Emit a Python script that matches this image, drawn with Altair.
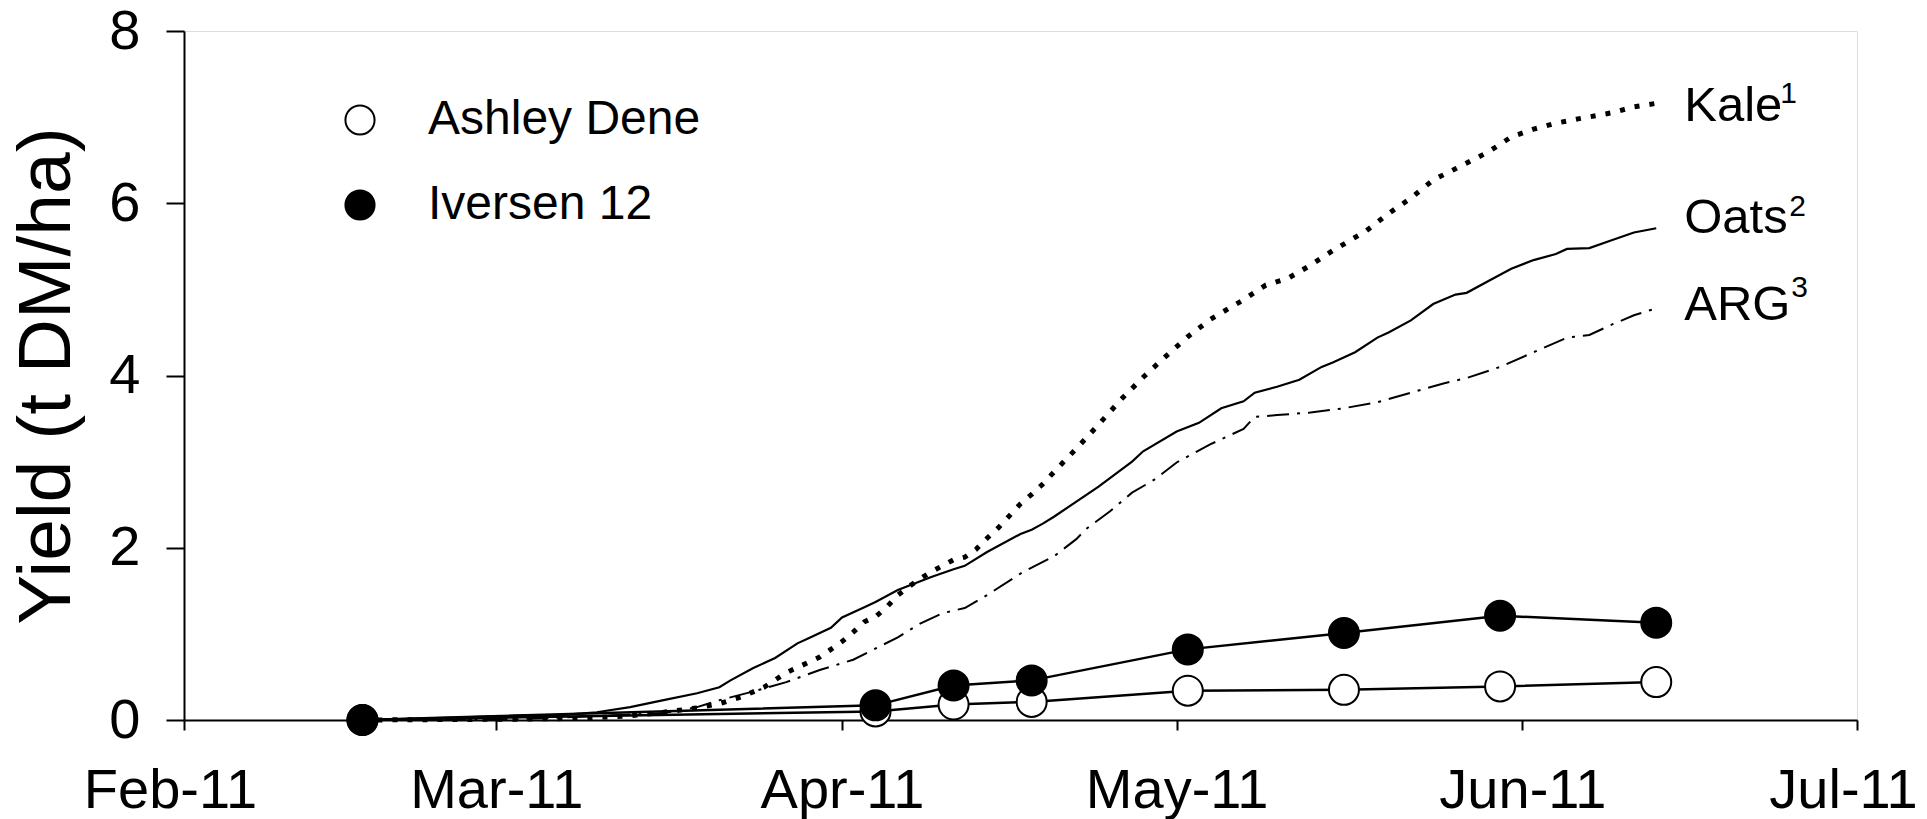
import altair as alt
import pandas as pd

FONT = "Liberation Sans"

# Simulated cumulative yield curves (t DM/ha)
kale_dates = [
    "2011-02-17", "2011-03-03", "2011-03-09", "2011-03-13", "2011-03-16", "2011-03-19",
    "2011-03-21", "2011-03-23", "2011-03-25", "2011-03-27", "2011-03-28", "2011-03-30",
    "2011-03-31", "2011-04-01", "2011-04-02", "2011-04-03", "2011-04-04", "2011-04-05",
    "2011-04-06", "2011-04-07", "2011-04-08", "2011-04-09", "2011-04-11", "2011-04-12",
    "2011-04-13", "2011-04-14", "2011-04-15", "2011-04-16", "2011-04-17", "2011-04-18",
    "2011-04-19", "2011-04-20", "2011-04-22", "2011-04-24", "2011-04-26", "2011-04-28",
    "2011-04-30", "2011-05-02", "2011-05-04", "2011-05-07", "2011-05-09", "2011-05-11",
    "2011-05-13", "2011-05-15", "2011-05-18", "2011-05-20", "2011-05-22", "2011-05-24",
    "2011-05-26", "2011-05-29", "2011-05-31", "2011-06-02", "2011-06-04", "2011-06-06",
    "2011-06-09", "2011-06-11", "2011-06-13",
]
kale_yield = [
    0.00, 0.01, 0.02, 0.05, 0.09, 0.14,
    0.19, 0.27, 0.38, 0.55, 0.61, 0.73,
    0.82, 0.91, 1.02, 1.14, 1.20, 1.31,
    1.45, 1.55, 1.64, 1.72, 1.86, 1.89,
    1.98, 2.11, 2.23, 2.37, 2.51, 2.62,
    2.74, 2.88, 3.15, 3.43, 3.72, 3.98,
    4.22, 4.45, 4.65, 4.88, 5.05, 5.13,
    5.28, 5.45, 5.68, 5.88, 6.06, 6.27,
    6.40, 6.60, 6.77, 6.86, 6.93, 6.98,
    7.05, 7.12, 7.16,
]

oats_dates = [
    "2011-02-17", "2011-02-26", "2011-03-03", "2011-03-07", "2011-03-10", "2011-03-13",
    "2011-03-16", "2011-03-19", "2011-03-21", "2011-03-22", "2011-03-24", "2011-03-26",
    "2011-03-28", "2011-03-29", "2011-03-31", "2011-04-01", "2011-04-03", "2011-04-04",
    "2011-04-06", "2011-04-09", "2011-04-11", "2011-04-12", "2011-04-14", "2011-04-17",
    "2011-04-18", "2011-04-19", "2011-04-20", "2011-04-24", "2011-04-27", "2011-04-28",
    "2011-05-01", "2011-05-03", "2011-05-05", "2011-05-07", "2011-05-08", "2011-05-10",
    "2011-05-12", "2011-05-14", "2011-05-15", "2011-05-17", "2011-05-19", "2011-05-20",
    "2011-05-22", "2011-05-24", "2011-05-26", "2011-05-27", "2011-05-29", "2011-05-31",
    "2011-06-02", "2011-06-04", "2011-06-05", "2011-06-07", "2011-06-09", "2011-06-11",
    "2011-06-13",
]
oats_yield = [
    0.00, 0.03, 0.05, 0.06, 0.09, 0.15,
    0.23, 0.31, 0.38, 0.46, 0.60, 0.72,
    0.89, 0.95, 1.07, 1.19, 1.31, 1.37,
    1.51, 1.66, 1.75, 1.79, 1.95, 2.16,
    2.21, 2.28, 2.36, 2.71, 3.00, 3.12,
    3.35, 3.45, 3.62, 3.70, 3.80, 3.87,
    3.95, 4.10, 4.15, 4.27, 4.44, 4.50,
    4.64, 4.83, 4.94, 4.96, 5.10, 5.24,
    5.34, 5.41, 5.47, 5.48, 5.57, 5.66,
    5.71,
]

arg_dates = [
    "2011-02-17", "2011-03-03", "2011-03-09", "2011-03-16", "2011-03-19", "2011-03-21",
    "2011-03-24", "2011-03-27", "2011-03-30", "2011-04-02", "2011-04-04", "2011-04-06",
    "2011-04-08", "2011-04-10", "2011-04-12", "2011-04-14", "2011-04-17", "2011-04-18",
    "2011-04-20", "2011-04-22", "2011-04-23", "2011-04-25", "2011-04-27", "2011-04-29",
    "2011-05-01", "2011-05-04", "2011-05-07", "2011-05-08", "2011-05-10", "2011-05-13",
    "2011-05-16", "2011-05-19", "2011-05-22", "2011-05-25", "2011-05-27", "2011-05-30",
    "2011-06-02", "2011-06-05", "2011-06-07", "2011-06-09", "2011-06-11", "2011-06-13",
]
arg_yield = [
    0.00, 0.01, 0.04, 0.08, 0.15, 0.23,
    0.33, 0.44, 0.58, 0.70, 0.83, 0.96,
    1.12, 1.24, 1.30, 1.45, 1.70, 1.77,
    1.90, 2.10, 2.23, 2.42, 2.64, 2.79,
    2.99, 3.20, 3.38, 3.52, 3.54, 3.57,
    3.62, 3.69, 3.80, 3.91, 3.97, 4.10,
    4.27, 4.44, 4.47, 4.59, 4.70, 4.78,
]

# Measured yields at the two sites
harvest_dates = [
    "2011-02-17", "2011-04-04", "2011-04-11", "2011-04-18",
    "2011-05-02", "2011-05-16", "2011-05-30", "2011-06-13",
]
ashley_dene = [0.00, 0.10, 0.18, 0.21, 0.34, 0.35, 0.39, 0.44]
iversen_12 = [0.00, 0.17, 0.40, 0.46, 0.82, 1.01, 1.21, 1.13]

site_names = ["Ashley Dene", "Iversen 12"]

curves = pd.concat([
    pd.DataFrame({"date": kale_dates, "yield": kale_yield, "crop": "Kale"}),
    pd.DataFrame({"date": oats_dates, "yield": oats_yield, "crop": "Oats"}),
    pd.DataFrame({"date": arg_dates, "yield": arg_yield, "crop": "ARG"}),
], ignore_index=True)

sites = pd.DataFrame({
    "date": harvest_dates * 2,
    "yield": ashley_dene + iversen_12,
    "site": [site_names[0]] * len(harvest_dates) + [site_names[1]] * len(harvest_dates),
})


def utc_day(month, day):
    return alt.DateTime(year=2011, month=month, date=day, utc=True)


x_scale = alt.Scale(type="utc", domain=[utc_day(2, 1), utc_day(7, 1)])
y_scale = alt.Scale(domain=[0, 8], nice=False, zero=True)

x_axis = alt.Axis(
    values=[utc_day(m, 1) for m in range(2, 8)],
    labelExpr="utcFormat(datum.value, '%b-%y')",
    tickSize=10, labelFontSize=56, labelPadding=33, labelFont=FONT, labelLimit=400,
    labelOffset={
        "condition": {
            "test": "utcmonth(datum.value) == 1 || utcmonth(datum.value) == 6",
            "value": -14,
        },
        "value": 0,
    },
    labelColor="black", domainColor="black", tickColor="black",
    domainWidth=2, tickWidth=2, grid=False, title=None, labelFlush=False,
)
y_axis = alt.Axis(
    values=[0, 2, 4, 6, 8], format="d", tickSize=18, labelFontSize=56, labelPadding=26,
    labelFont=FONT, labelColor="black", domainColor="black", tickColor="black",
    domainWidth=2, tickWidth=2, grid=False, title="Yield (t DM/ha)",
    titleFont=FONT, titleFontSize=75, titleFontWeight="normal", titleColor="black",
    titleAngle=270, titleX=-99, titleBaseline="bottom", labelFlush=False,
)

X = alt.X("date:T", scale=x_scale, axis=x_axis)
Y = alt.Y("yield:Q", scale=y_scale, axis=y_axis)
Xp = alt.X("date:T", scale=x_scale)
Yp = alt.Y("yield:Q", scale=y_scale)

base_curve = alt.Chart(curves)

kale_line = base_curve.transform_filter(alt.datum.crop == "Kale").mark_line(
    color="black", strokeWidth=5, strokeDash=[5, 10]
).encode(x=X, y=Y)
oats_line = base_curve.transform_filter(alt.datum.crop == "Oats").mark_line(
    color="black", strokeWidth=2.2
).encode(x=Xp, y=Yp)
arg_line = base_curve.transform_filter(alt.datum.crop == "ARG").mark_line(
    color="black", strokeWidth=2, strokeDash=[22, 8, 3, 8]
).encode(x=Xp, y=Yp)

site_lines = alt.Chart(sites).mark_line(color="black", strokeWidth=2.5).encode(
    x=Xp, y=Yp, detail="site:N"
)
site_points = alt.Chart(sites).mark_circle(
    size=900, stroke="black", strokeWidth=2, opacity=1
).encode(
    x=Xp, y=Yp,
    fill=alt.Fill(
        "site:N",
        scale=alt.Scale(domain=site_names, range=["white", "black"]),
        legend=alt.Legend(
            title=None, orient="none", legendX=152, legendY=65,
            symbolType="circle", symbolSize=850, symbolStrokeColor="black",
            symbolStrokeWidth=2, symbolOpacity=1, labelFont=FONT, labelFontSize=48,
            labelColor="black", labelOffset=44, rowPadding=37, labelLimit=0,
        ),
    ),
)

# End-of-curve labels with superscript footnote markers
end_labels = []
for name, sup, dates, values, dy, sup_dx, sup_dy in [
    ("Kale", "1", kale_dates, kale_yield, 17.5, 124, -0.5),
    ("Oats", "2", oats_dates, oats_yield, 4.6, 133, -12),
    ("ARG", "3", arg_dates, arg_yield, 11.6, 135, -11.4),
]:
    end = pd.DataFrame({"date": [dates[-1]], "yield": [values[-1]]})
    end_labels.append(
        alt.Chart(end).mark_text(
            text=name, align="left", baseline="alphabetic", dx=28, dy=dy,
            font=FONT, fontSize=49, color="black",
        ).encode(x=Xp, y=Yp)
    )
    end_labels.append(
        alt.Chart(end).mark_text(
            text=sup, align="left", baseline="alphabetic", dx=sup_dx, dy=sup_dy,
            font=FONT, fontSize=30, color="black",
        ).encode(x=Xp, y=Yp)
    )

chart = alt.layer(
    kale_line, oats_line, arg_line, site_lines, site_points, *end_labels
).properties(
    width=1673, height=689,
    autosize=alt.AutoSizeParams(type="none"),
    padding={"left": 184, "top": 31, "right": 70, "bottom": 99},
).configure_view(
    stroke="black", strokeWidth=2
).configure(background="white")

chart.save("out.html", embed_options={"renderer": "svg", "actions": False})
